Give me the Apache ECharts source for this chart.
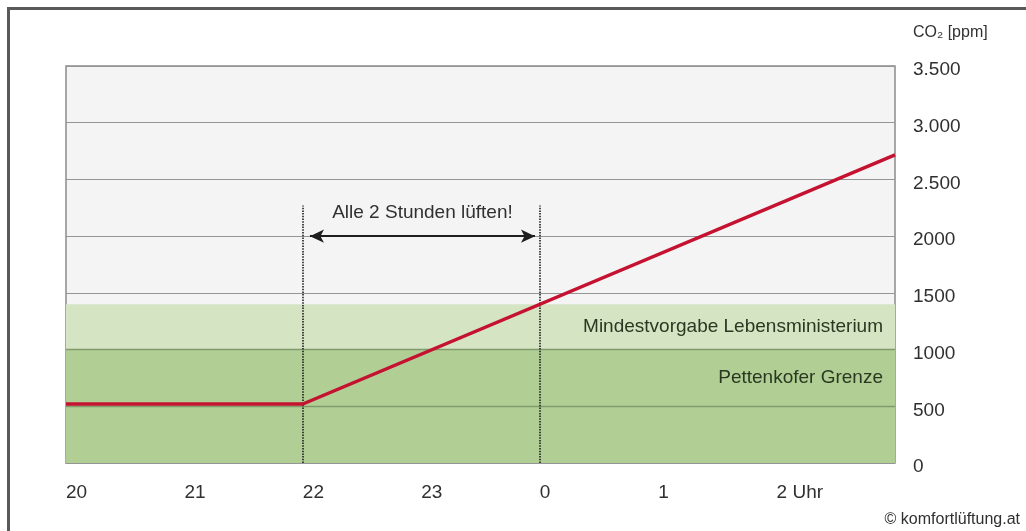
<!DOCTYPE html>
<html>
<head>
<meta charset="utf-8">
<script src="https://cdn.jsdelivr.net/npm/echarts@6/dist/echarts.min.js"></script>
<style>
  html, body { margin: 0; padding: 0; background: #ffffff; }
  #chart { width: 1026px; height: 531px; }
</style>
</head>
<body>
<div id="chart"></div>
<script>
// Hour axis: 20 Uhr through 3 Uhr (hours past midnight counted as 24+)
const hourTicks = [20, 21, 22, 23, 24, 25, 26];
const hourLabels = ['20', '21', '22', '23', '0', '1', '2 Uhr'];

// CO2 axis tick labels
const ppmTicks = [0, 500, 1000, 1500, 2000, 2500, 3000, 3500];
const ppmLabels = ['0', '500', '1000', '1500', '2000', '2.500', '3.000', '3.500'];

// CO2 concentration in the room: flat until 22 Uhr, then rising
const co2Hours = [20, 22, 27];
const co2Values = [520, 520, 2716];

// Limit bands [from, to] in ppm
const pettenkoferBand = [500, 1000];
const ministeriumBand = [1000, 1400];
const baseBand = [0, 500];

// Ventilation interval marker
const ventStart = 22;
const ventEnd = 24;
const ventArrowLevel = 2000;
const ventLineTop = 2270;

const font = '"Liberation Sans", Arial, sans-serif';
const textColor = '#303030';

const chart = echarts.init(document.getElementById('chart'), null, { renderer: 'canvas' });

const option = {
  backgroundColor: '#ffffff',
  animation: false,
  textStyle: { fontFamily: font },
  grid: {
    left: 66, right: 131, top: 66, bottom: 68,
    show: true,
    backgroundColor: '#f4f4f4',
    borderColor: '#8a8a8a',
    borderWidth: 1.5
  },
  xAxis: {
    type: 'value',
    min: 20, max: 27, interval: 1,
    axisLine: { show: false },
    axisTick: { show: false },
    splitLine: { show: false },
    axisLabel: {
      align: 'left',
      margin: 20,
      fontSize: 19,
      color: textColor,
      fontFamily: font,
      formatter: function (v) {
        const i = hourTicks.indexOf(v);
        return i >= 0 ? hourLabels[i] : '';
      }
    }
  },
  yAxis: {
    type: 'value',
    position: 'right',
    min: 0, max: 3500, interval: 500,
    name: 'CO\u2082 [ppm]',
    nameLocation: 'end',
    nameGap: 25,
    nameTextStyle: { align: 'left', fontSize: 16, color: textColor, fontFamily: font, padding: [0, 0, 0, 18] },
    axisLine: { show: false },
    axisTick: { show: false },
    splitLine: { show: true, lineStyle: { color: '#959595', width: 1.2 } },
    axisLabel: {
      align: 'left',
      margin: 18,
      fontSize: 19,
      color: textColor,
      fontFamily: font,
      formatter: function (v) {
        const i = ppmTicks.indexOf(v);
        return i >= 0 ? '{t|' + ppmLabels[i] + '}' : '';
      },
      rich: {
        t: { fontSize: 19, color: textColor, fontFamily: font, padding: [8, 0, 0, 0] }
      }
    }
  },
  series: [{
    type: 'line',
    data: co2Hours.map((h, i) => [h, co2Values[i]]),
    symbol: 'none',
    z: 5,
    lineStyle: { color: '#c41230', width: 3.4 },
    markArea: {
      silent: true,
      data: [
        [{ yAxis: baseBand[0], itemStyle: { color: '#b1cf94' } }, { yAxis: baseBand[1] }],
        [{
          yAxis: pettenkoferBand[0],
          name: 'Pettenkofer Grenze',
          itemStyle: { color: '#b1cf94' }
        }, { yAxis: pettenkoferBand[1] }],
        [{
          yAxis: ministeriumBand[0],
          name: 'Mindestvorgabe Lebensministerium',
          itemStyle: { color: '#d5e4c3' }
        }, { yAxis: ministeriumBand[1] }]
      ],
      label: {
        show: true,
        position: 'insideRight',
        distance: 12,
        fontSize: 19,
        color: '#2a3822',
        fontFamily: font
      }
    },
    markLine: {
      silent: true,
      symbol: 'none',
      animation: false,
      label: { show: false },
      data: [
        // grid lines inside the green bands
        [{ coord: [20, 500], lineStyle: { color: '#7f9a6c', width: 1.3, type: 'solid' } }, { coord: [27, 500] }],
        [{ coord: [20, 1000], lineStyle: { color: '#7f9a6c', width: 1.3, type: 'solid' } }, { coord: [27, 1000] }],
        // dotted markers at 22 Uhr and 0 Uhr
        [{ coord: [ventStart, 0], lineStyle: { color: '#1e1e1e', width: 1.6, type: [1.5, 1.2] } }, { coord: [ventStart, ventLineTop] }],
        [{ coord: [ventEnd, 0], lineStyle: { color: '#1e1e1e', width: 1.6, type: [1.5, 1.2] } }, { coord: [ventEnd, ventLineTop] }],
        // double arrow between the two markers
        [{
          coord: [ventStart + 0.06, ventArrowLevel],
          symbol: 'arrow', symbolSize: [10, 14],
          lineStyle: { color: '#1e1e1e', width: 2, type: 'solid' },
          label: {
            show: true,
            position: 'middle',
            distance: 14,
            formatter: 'Alle 2 Stunden lüften!',
            fontSize: 19,
            color: textColor,
            fontFamily: font
          }
        }, {
          coord: [ventEnd - 0.04, ventArrowLevel],
          symbol: 'arrow', symbolSize: [10, 14]
        }]
      ]
    }
  }],
  graphic: [
    {
      type: 'rect',
      silent: true,
      shape: { x: 8.5, y: 8.5, width: 1100, height: 600 },
      style: { fill: 'none', stroke: '#5a5a5a', lineWidth: 3 }
    },
    {
      type: 'text',
      right: 6,
      top: 512,
      style: {
        text: '\u00a9 komfortlüftung.at',
        fontSize: 16,
        fill: textColor,
        fontFamily: font
      }
    }
  ]
};

chart.setOption(option);
</script>
</body>
</html>
